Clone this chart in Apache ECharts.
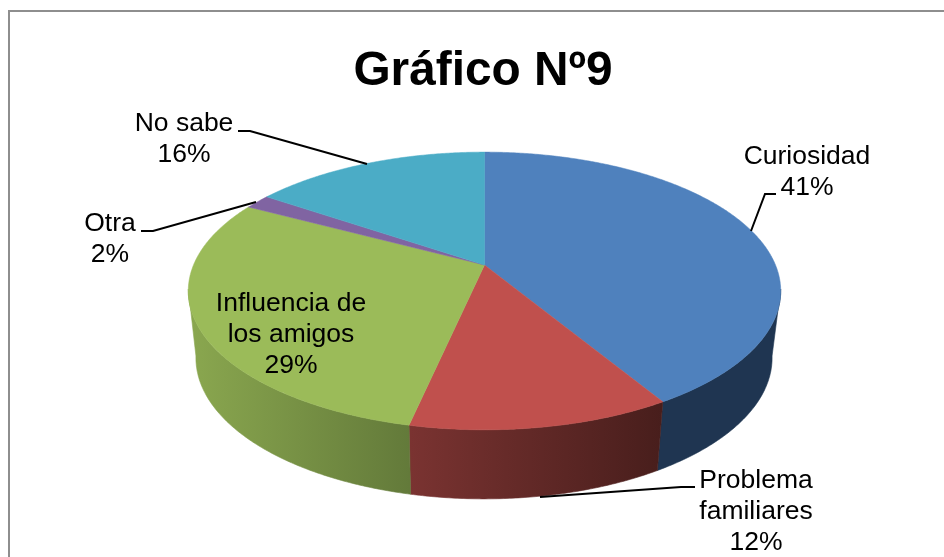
<!DOCTYPE html>
<html>
<head>
<meta charset="utf-8">
<style>html,body{margin:0;padding:0;background:#fff}#c{width:944px;height:557px}</style>
<script src="https://cdn.jsdelivr.net/npm/echarts@6/dist/echarts.min.js"></script>
</head>
<body>
<div id="c"></div>
<script>
var chartTitle = 'Gráfico Nº9';
var categories = ['Curiosidad', 'Problema familiares', 'Influencia de los amigos', 'Otra', 'No sabe'];
var sliceValues = [41.4, 12, 29.4, 1.7, 15.5];
var labelLines = [['Curiosidad'], ['Problema', 'familiares'], ['Influencia de', 'los amigos'], ['Otra'], ['No sabe']];

var topColors = ['#4F81BD', '#C0504D', '#9BBB59', '#8064A2', '#4BACC6'];

// Perspective projection of the pie disc: top rim and bottom rim
var topRim = {cx: 484.5, cy: 265, a: 291, b: 134, k: 0.187};
var botRim = {cx: 484, cy: 331.6, a: 283, b: 136, k: 0.187};
var WALL_FROM = 100, WALL_TO = 260;

function wallFill(i) {
  if (i === 0) return '#1F3551';
  if (i === 1) return {type: 'linear', global: true, x: 410, y: 0, x2: 662, y2: 0,
    colorStops: [{offset: 0, color: '#7A3331'}, {offset: 1, color: '#481E1C'}]};
  if (i === 2) return {type: 'linear', global: true, x: 190, y: 0, x2: 410, y2: 0,
    colorStops: [{offset: 0, color: '#8AA74F'}, {offset: 1, color: '#637A3A'}]};
  return topColors[i];
}

// Label placement (centre x, first-line centre y) and leader lines
var labelPos = [[807, 157], [756, 481], [291, 304], [110, 224], [184, 124]];
var leaders = [
  [[776, 194], [765, 194], [751, 231]],
  [[695, 487], [681, 487], [540, 497]],
  null,
  [[141, 231], [153, 231], [256, 202]],
  [[238, 131], [250, 131], [367, 164]]
];
var LINE_H = 31;

function project(rim, deg) {
  var r = deg * Math.PI / 180, X = Math.sin(r), Y = -Math.cos(r), d = 1 - rim.k * Y;
  return [rim.cx + rim.a * X / d, rim.cy + rim.b * Y / d];
}
function arc(rim, from, to) {
  var n = Math.max(2, Math.ceil(Math.abs(to - from) * 2)), pts = [];
  for (var i = 0; i <= n; i++) pts.push(project(rim, from + (to - from) * i / n));
  return pts;
}
var total = sliceValues.reduce(function (s, v) { return s + v; }, 0);
function sliceRange(i) {
  var before = 0;
  for (var j = 0; j < i; j++) before += sliceValues[j];
  return [before / total * 360, (before + sliceValues[i]) / total * 360];
}
var pieData = sliceValues.map(function (v, i) { return {name: categories[i], value: v}; });

var chart = echarts.init(document.getElementById('c'), null, {renderer: 'canvas'});
chart.setOption({
  backgroundColor: '#fff',
  animation: false,
  graphic: [{
    type: 'rect', silent: true, z: 0,
    shape: {x: 9, y: 11, width: 1200, height: 900},
    style: {fill: 'none', stroke: '#8E8E8E', lineWidth: 2}
  }, {
    type: 'text', silent: true, z: 10, x: 483, y: 72,
    style: {text: chartTitle, align: 'center', verticalAlign: 'middle', fill: '#000',
      font: 'bold 47.8px "Liberation Sans", Arial, sans-serif'}
  }],
  series: [{
    type: 'custom', name: 'walls', coordinateSystem: 'none', z: 1, silent: true, data: pieData,
    renderItem: function (params) {
      var i = params.dataIndex, r = sliceRange(i);
      var a = Math.max(r[0], WALL_FROM), b = Math.min(r[1], WALL_TO);
      if (b <= a) return {type: 'group', children: []};
      var pts = arc(topRim, a, b).concat(arc(botRim, b, a));
      var fill = wallFill(i);
      return {type: 'polygon', shape: {points: pts}, style: {fill: fill, stroke: fill, lineWidth: 0.6}};
    }
  }, {
    type: 'custom', name: 'tops', coordinateSystem: 'none', z: 2, silent: true, data: pieData,
    renderItem: function (params) {
      var i = params.dataIndex, r = sliceRange(i);
      var pts = [[topRim.cx, topRim.cy]].concat(arc(topRim, r[0], r[1]));
      return {type: 'polygon', shape: {points: pts},
        style: {fill: topColors[i], stroke: topColors[i], lineWidth: 0.5}};
    }
  }, {
    type: 'custom', name: 'labels', coordinateSystem: 'none', z: 3, silent: true, data: pieData,
    renderItem: function (params, api) {
      var i = params.dataIndex, children = [];
      var lines = labelLines[i].concat([Math.round(api.value(0)) + '%']);
      lines.forEach(function (t, j) {
        children.push({type: 'text', style: {
          text: t, x: labelPos[i][0], y: labelPos[i][1] + j * LINE_H,
          align: 'center', verticalAlign: 'middle', fill: '#000',
          font: '26.5px "Liberation Sans", Arial, sans-serif'}});
      });
      if (leaders[i]) children.push({type: 'polyline', shape: {points: leaders[i]},
        style: {fill: 'none', stroke: '#000', lineWidth: 2}});
      return {type: 'group', children: children};
    }
  }]
});
</script>
</body>
</html>
